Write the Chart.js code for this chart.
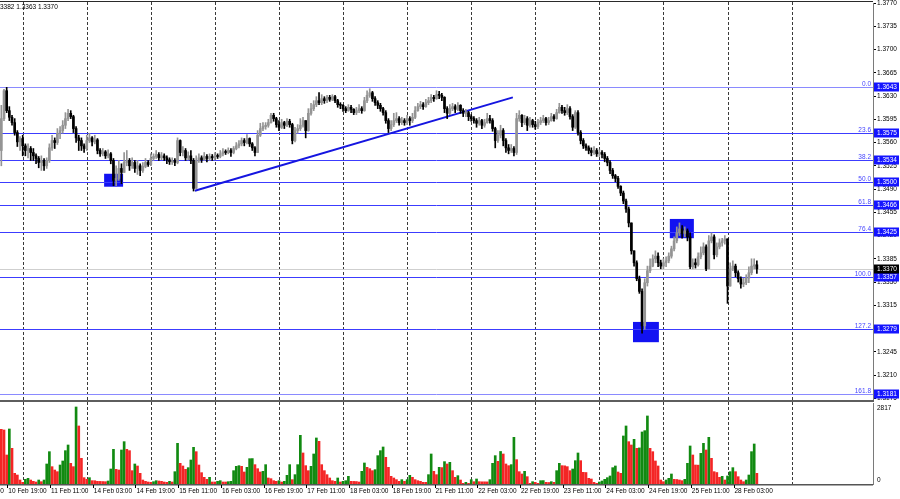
<!DOCTYPE html>
<html>
<head>
<meta charset="utf-8">
<script src="https://cdn.jsdelivr.net/npm/chart.js@4.4.1/dist/chart.umd.min.js"></script>
<style>
  html, body { margin: 0; padding: 0; background: #fff; }
  #wrap { position: relative; width: 900px; height: 499px; overflow: hidden; background: #fff; }
  canvas { position: absolute; left: 0; }
  #priceCanvas { top: 0; }
  #volCanvas { top: 402px; }
</style>
</head>
<body>
<div id="wrap">
  <canvas id="priceCanvas" width="900" height="402"></canvas>
  <canvas id="volCanvas" width="900" height="97"></canvas>
</div>
<script>
// H1 bars, prices in points (price * 10000). Open of each bar = previous close.
const firstOpen = 13548;
const closes = [
  13596, 13638, 13608, 13598, 13590, 13575, 13561, 13566, 13555, 13548,
  13551, 13545, 13540, 13536, 13530, 13533, 13525, 13533, 13552, 13563,
  13560, 13574, 13578, 13586, 13596, 13604, 13599, 13581, 13567, 13563,
  13555, 13551, 13563, 13567, 13561, 13564, 13548, 13543, 13546, 13540,
  13543, 13533, 13503, 13506, 13521, 13515, 13530, 13533, 13525, 13530,
  13521, 13525, 13518, 13524, 13530, 13527, 13536, 13539, 13542, 13537,
  13540, 13537, 13534, 13531, 13533, 13530, 13563, 13545, 13548, 13537,
  13540, 13533, 13491, 13533, 13537, 13534, 13539, 13536, 13539, 13537,
  13540, 13539, 13543, 13546, 13545, 13548, 13545, 13551, 13555, 13558,
  13563, 13560, 13566, 13558, 13552, 13545, 13571, 13581, 13584, 13586,
  13590, 13601, 13596, 13587, 13583, 13590, 13586, 13592, 13587, 13563,
  13578, 13581, 13586, 13593, 13578, 13604, 13611, 13617, 13623, 13620,
  13626, 13623, 13628, 13625, 13629, 13623, 13617, 13616, 13611, 13608,
  13613, 13610, 13605, 13608, 13611, 13608, 13623, 13631, 13635, 13626,
  13620, 13616, 13611, 13605, 13593, 13581, 13587, 13593, 13596, 13590,
  13593, 13590, 13596, 13593, 13598, 13608, 13614, 13617, 13614, 13620,
  13623, 13628, 13626, 13632, 13631, 13628, 13611, 13604, 13611, 13614,
  13610, 13616, 13608, 13604, 13605, 13599, 13596, 13593, 13589, 13593,
  13586, 13590, 13596, 13593, 13581, 13563, 13571, 13578, 13563, 13552,
  13548, 13551, 13545, 13596, 13601, 13590, 13596, 13586, 13593, 13587,
  13584, 13590, 13593, 13596, 13590, 13593, 13599, 13596, 13605, 13613,
  13608, 13605, 13611, 13599, 13583, 13605, 13575, 13563, 13555, 13552,
  13548, 13545, 13548, 13543, 13545, 13542, 13536, 13530, 13518, 13510,
  13506, 13494, 13484, 13472, 13460, 13439, 13397, 13379, 13355, 13336,
  13284, 13349, 13367, 13374, 13385, 13389, 13379, 13374, 13379, 13382,
  13389, 13400, 13412, 13424, 13430, 13423, 13427, 13418, 13373, 13379,
  13376, 13388, 13394, 13403, 13370, 13412, 13418, 13391, 13403, 13409,
  13412, 13415, 13344, 13370, 13374, 13364, 13355, 13347, 13349, 13356,
  13364, 13374, 13376, 13370
];
const highs = [
  13616, 13640, 13643, 13614, 13601, 13596, 13578, 13569, 13571, 13558,
  13558, 13554, 13551, 13543, 13539, 13540, 13536, 13537, 13558, 13571,
  13567, 13581, 13584, 13593, 13605, 13610, 13608, 13601, 13584, 13571,
  13567, 13558, 13571, 13574, 13569, 13571, 13566, 13551, 13551, 13548,
  13549, 13545, 13536, 13525, 13533, 13528, 13545, 13548, 13536, 13537,
  13533, 13533, 13528, 13530, 13536, 13533, 13543, 13543, 13548, 13545,
  13545, 13543, 13540, 13537, 13537, 13536, 13567, 13564, 13554, 13551,
  13546, 13548, 13536, 13540, 13543, 13540, 13545, 13542, 13543, 13542,
  13545, 13543, 13548, 13551, 13549, 13552, 13551, 13554, 13560, 13563,
  13567, 13566, 13572, 13567, 13560, 13554, 13578, 13589, 13590, 13590,
  13595, 13604, 13604, 13598, 13593, 13595, 13592, 13596, 13595, 13589,
  13583, 13587, 13596, 13598, 13593, 13611, 13619, 13623, 13629, 13635,
  13632, 13629, 13631, 13631, 13632, 13631, 13625, 13620, 13617, 13614,
  13617, 13616, 13611, 13613, 13617, 13614, 13628, 13638, 13641, 13637,
  13629, 13623, 13619, 13613, 13608, 13596, 13593, 13604, 13605, 13599,
  13598, 13596, 13601, 13599, 13604, 13614, 13619, 13622, 13620, 13625,
  13628, 13632, 13631, 13638, 13637, 13634, 13629, 13614, 13617, 13619,
  13617, 13620, 13617, 13611, 13610, 13607, 13602, 13599, 13596, 13598,
  13595, 13595, 13604, 13601, 13596, 13583, 13578, 13586, 13581, 13566,
  13557, 13557, 13554, 13604, 13608, 13602, 13601, 13599, 13598, 13595,
  13592, 13595, 13598, 13601, 13598, 13598, 13604, 13602, 13610, 13619,
  13616, 13613, 13617, 13614, 13602, 13608, 13608, 13578, 13566, 13558,
  13555, 13552, 13554, 13551, 13549, 13548, 13545, 13539, 13533, 13521,
  13512, 13509, 13495, 13487, 13475, 13463, 13433, 13397, 13382, 13359,
  13340, 13355, 13374, 13385, 13391, 13397, 13394, 13383, 13385, 13388,
  13394, 13404, 13418, 13433, 13439, 13435, 13433, 13430, 13424, 13385,
  13385, 13394, 13403, 13409, 13406, 13420, 13424, 13421, 13409, 13415,
  13416, 13420, 13392, 13379, 13382, 13377, 13367, 13358, 13356, 13361,
  13373, 13385, 13385, 13382
];
const lows = [
  13525, 13593, 13605, 13593, 13586, 13571, 13554, 13548, 13540, 13540,
  13537, 13533, 13533, 13528, 13522, 13518, 13518, 13521, 13530, 13548,
  13551, 13557, 13566, 13574, 13581, 13593, 13596, 13575, 13560, 13548,
  13548, 13545, 13548, 13560, 13555, 13558, 13543, 13539, 13540, 13536,
  13537, 13528, 13495, 13495, 13503, 13498, 13515, 13525, 13518, 13521,
  13515, 13512, 13510, 13515, 13522, 13524, 13525, 13533, 13536, 13533,
  13534, 13533, 13528, 13527, 13527, 13525, 13528, 13540, 13540, 13533,
  13534, 13528, 13487, 13491, 13530, 13530, 13533, 13531, 13533, 13533,
  13534, 13536, 13537, 13540, 13542, 13543, 13539, 13543, 13549, 13552,
  13555, 13555, 13558, 13554, 13548, 13540, 13545, 13569, 13578, 13580,
  13583, 13589, 13592, 13583, 13578, 13581, 13581, 13584, 13583, 13558,
  13561, 13574, 13578, 13583, 13567, 13577, 13601, 13608, 13614, 13617,
  13617, 13619, 13620, 13622, 13623, 13620, 13613, 13611, 13607, 13605,
  13607, 13605, 13602, 13602, 13605, 13604, 13607, 13620, 13628, 13622,
  13616, 13611, 13607, 13601, 13589, 13575, 13578, 13584, 13590, 13586,
  13587, 13586, 13587, 13586, 13590, 13596, 13607, 13611, 13610, 13613,
  13617, 13620, 13622, 13625, 13626, 13623, 13605, 13596, 13602, 13608,
  13605, 13608, 13604, 13599, 13599, 13593, 13592, 13589, 13583, 13586,
  13581, 13583, 13589, 13589, 13577, 13552, 13560, 13567, 13555, 13545,
  13543, 13545, 13540, 13542, 13592, 13584, 13587, 13578, 13583, 13583,
  13580, 13581, 13587, 13590, 13586, 13587, 13592, 13592, 13595, 13604,
  13604, 13601, 13602, 13595, 13578, 13581, 13571, 13558, 13551, 13548,
  13543, 13540, 13542, 13539, 13539, 13537, 13531, 13525, 13513, 13506,
  13501, 13491, 13480, 13468, 13455, 13433, 13392, 13374, 13352, 13333,
  13273, 13279, 13344, 13364, 13373, 13379, 13373, 13370, 13370, 13373,
  13379, 13386, 13397, 13409, 13420, 13416, 13418, 13412, 13370, 13370,
  13371, 13374, 13385, 13391, 13367, 13370, 13409, 13385, 13388, 13400,
  13404, 13407, 13318, 13344, 13367, 13358, 13350, 13341, 13343, 13346,
  13349, 13361, 13370, 13363
];
const volumes = [
  2000, 1976, 1061, 2013, 1305, 390, 329, 146, 61, 171,
  207, 146, 98, 73, 146, 85, 146, 732, 1183, 634,
  512, 451, 695, 842, 1220, 1427, 756, 634, 2817, 2123,
  939, 232, 171, 232, 122, 120, 98, 95, 90, 85,
  110, 549, 1269, 537, 512, 1244, 1549, 1269, 1220, 488,
  732, 659, 390, 146, 98, 73, 61, 85, 122, 110,
  98, 73, 61, 98, 73, 451, 1488, 756, 659, 537,
  598, 878, 1342, 1183, 695, 415, 244, 171, 244, 73,
  73, 98, 122, 73, 73, 85, 98, 488, 647, 671,
  647, 439, 610, 927, 930, 708, 561, 439, 464, 708,
  220, 195, 122, 98, 122, 73, 98, 317, 708, 159,
  342, 708, 1781, 1135, 671, 488, 647, 1098, 1684, 1562,
  708, 488, 342, 220, 122, 98, 220, 73, 98, 122,
  281, 98, 95, 90, 73, 464, 769, 610, 561, 488,
  525, 1037, 1220, 1354, 976, 610, 281, 220, 159, 98,
  159, 98, 159, 317, 244, 159, 122, 98, 61, 61,
  342, 1098, 464, 342, 610, 600, 818, 732, 793, 488,
  244, 305, 146, 24, 61, 24, 159, 85, 183, 85,
  80, 80, 78, 159, 757, 1037, 830, 1190, 1098, 732,
  671, 708, 1708, 891, 451, 366, 464, 268, 24, 85,
  61, 24, 122, 125, 61, 55, 85, 61, 488, 757,
  671, 665, 635, 488, 549, 854, 1135, 854, 427, 420,
  207, 183, 61, 24, 73, 110, 171, 232, 293, 598,
  659, 439, 390, 1757, 2123, 1549, 1427, 1635, 1305, 1320,
  1903, 1952, 2489, 1305, 1183, 842, 659, 146, 85, 146,
  207, 366, 171, 165, 146, 122, 171, 756, 1391, 1061,
  695, 690, 1122, 1488, 1244, 1708, 939, 451, 420, 244,
  280, 146, 293, 451, 598, 451, 268, 146, 85, 146,
  329, 1183, 1464, 390
];

// time axis
const days = ['10 Feb', '11 Feb', '14 Feb', '15 Feb', '16 Feb', '17 Feb', '18 Feb', '21 Feb',
  '22 Feb', '23 Feb', '24 Feb', '25 Feb', '28 Feb', '1 Mar', '2 Mar'];
const firstHour = 16;
const slotCount = 327;          // bars + empty space on the right
const timeLabels = ['10 Feb 03:00', '10 Feb 19:00', '11 Feb 11:00', '14 Feb 03:00', '14 Feb 19:00',
  '15 Feb 11:00', '16 Feb 03:00', '16 Feb 19:00', '17 Feb 11:00', '18 Feb 03:00', '18 Feb 19:00',
  '21 Feb 11:00', '22 Feb 03:00', '22 Feb 19:00', '23 Feb 11:00', '24 Feb 03:00', '24 Feb 19:00',
  '25 Feb 11:00', '28 Feb 03:00'];
const timeLabelFirstBar = -13;
const timeLabelStep = 16;

// price axis
const priceMax = 1.3770;
const priceMin = 1.3171;
const priceTicks = [1.3770, 1.3735, 1.3700, 1.3665, 1.3630, 1.3595, 1.3560, 1.3525, 1.3490,
  1.3455, 1.3420, 1.3385, 1.3350, 1.3315, 1.3280, 1.3245, 1.3210, 1.3175];

// fibonacci retracement
const fibNames = ['0.0', '23.6', '38.2', '50.0', '61.8', '76.4', '100.0', '127.2', '161.8'];
const fibPrices = [1.3643, 1.3575, 1.3534, 1.3500, 1.3466, 1.3425, 1.3357, 1.3279, 1.3181];

// trend line (bar index, price)
const trendBars = [72.5, 191.6];
const trendPrices = [1.34875, 1.3628];

// highlight boxes (bar index range, price range)
const boxBarFrom = [38.5, 236.6, 250.4];
const boxBarTo = [45.6, 246.3, 259.4];
const boxPriceTop = [1.3513, 1.3290, 1.3445];
const boxPriceBottom = [1.34935, 1.32595, 1.3416];

const pts = v => v / 10000;
const last = closes.length - 1;
const currentPrice = pts(closes[last]);

const barLabels = [];
for (let i = 0; i < slotCount; i++) {
  const h = firstHour + i;
  barLabels.push(days[Math.floor(h / 24)] + ' ' + String(h % 24).padStart(2, '0') + ':00');
}
const dayStarts = [];
for (let i = 0; i < 300; i++) {
  if ((firstHour + i) % 24 === 0) dayStarts.push(i);
}

const opens = closes.map((c, i) => i === 0 ? firstOpen : closes[i - 1]);
const bodyData = closes.map((c, i) => [pts(Math.min(opens[i], c)), pts(Math.max(opens[i], c))]);
const wickData = closes.map((c, i) => [pts(Math.min(lows[i], opens[i], c)), pts(Math.max(highs[i], opens[i], c))]);
const candleColors = closes.map((c, i) => c > opens[i] ? '#949494' : '#000000');
const volColors = volumes.map((v, i) => i > 0 && v > volumes[i - 1] ? '#118a11' : '#f42525');
const volTop = Math.max(...volumes);

const FONT = '6.5px "Liberation Sans", Arial, sans-serif';
const AXIS_W = 27;

function drawDayGrid(ctx, x, top, bottom) {
  ctx.save();
  ctx.strokeStyle = '#3a3a3a';
  ctx.lineWidth = 1;
  ctx.setLineDash([3, 2]);
  dayStarts.forEach(i => {
    const px = Math.round(x.getPixelForValue(i)) + 0.5;
    ctx.beginPath();
    ctx.moveTo(px, top);
    ctx.lineTo(px, bottom);
    ctx.stroke();
  });
  ctx.restore();
}

const priceOverlay = {
  id: 'priceOverlay',
  beforeDatasetsDraw(chart) {
    const { ctx, chartArea: a, scales: { x, y } } = chart;
    drawDayGrid(ctx, x, 2, a.bottom);
    ctx.save();
    // boxes
    ctx.fillStyle = '#1212f2';
    boxBarFrom.forEach((b, i) => {
      const x0 = x.getPixelForValue(b), x1 = x.getPixelForValue(boxBarTo[i]);
      const y0 = y.getPixelForValue(boxPriceTop[i]), y1 = y.getPixelForValue(boxPriceBottom[i]);
      ctx.fillRect(x0, y0, x1 - x0, y1 - y0);
    });
    // current price line
    const cy = Math.round(y.getPixelForValue(currentPrice)) + 0.5;
    ctx.strokeStyle = '#cfcfcf';
    ctx.lineWidth = 1;
    ctx.beginPath(); ctx.moveTo(a.left, cy); ctx.lineTo(a.right, cy); ctx.stroke();
    // fib levels
    fibPrices.forEach((p, i) => {
      const py = Math.round(y.getPixelForValue(p)) + 0.5;
      ctx.strokeStyle = (i === 0 || i === fibPrices.length - 1) ? '#8a8aff' : '#3c3cff';
      ctx.lineWidth = 1;
      ctx.beginPath(); ctx.moveTo(a.left, py); ctx.lineTo(a.right, py); ctx.stroke();
    });
    // trend line
    ctx.strokeStyle = '#1515e0';
    ctx.lineWidth = 2;
    ctx.beginPath();
    ctx.moveTo(x.getPixelForValue(trendBars[0]), y.getPixelForValue(trendPrices[0]));
    ctx.lineTo(x.getPixelForValue(trendBars[1]), y.getPixelForValue(trendPrices[1]));
    ctx.stroke();
    ctx.restore();
  },
  afterDraw(chart) {
    const { ctx, chartArea: a, scales: { y } } = chart;
    ctx.save();
    ctx.font = FONT;
    // fib level names
    ctx.fillStyle = '#4646ff';
    ctx.textAlign = 'right';
    ctx.textBaseline = 'bottom';
    fibPrices.forEach((p, i) => {
      ctx.fillText(fibNames[i], a.right - 2, Math.round(y.getPixelForValue(p)));
    });
    // axis boxes
    ctx.textAlign = 'left';
    ctx.textBaseline = 'middle';
    const tag = (p, bg) => {
      const py = Math.round(y.getPixelForValue(p));
      ctx.fillStyle = bg;
      ctx.fillRect(a.right + 1, py - 4.5, 25, 9);
      ctx.fillStyle = '#ffffff';
      ctx.fillText(p.toFixed(4), a.right + 4, py + 0.5);
    };
    fibPrices.forEach(p => tag(p, '#1414ff'));
    tag(currentPrice, '#000000');
    // header with last bar values
    ctx.fillStyle = '#000';
    ctx.textBaseline = 'middle';
    const head = pts(highs[last]).toFixed(4) + ' ' + pts(lows[last]).toFixed(4) + ' ' + currentPrice.toFixed(4);
    ctx.fillText(head, -ctx.measureText('1.').width, 7);
    // frame
    ctx.fillStyle = '#2a2a2a';
    ctx.fillRect(0, 1, a.right, 1);
    ctx.fillStyle = '#5e5e5e';
    ctx.fillRect(0, 400, a.right + 1, 2);
    ctx.restore();
  }
};

const volOverlay = {
  id: 'volOverlay',
  beforeDatasetsDraw(chart) {
    const { ctx, chartArea: a, scales: { x } } = chart;
    drawDayGrid(ctx, x, 0, a.bottom);
  },
  afterDraw(chart) {
    const { ctx, chartArea: a, scales: { x, y } } = chart;
    ctx.save();
    ctx.fillStyle = '#555';
    ctx.fillRect(0, a.bottom, a.right, 1.5);
    ctx.font = FONT;
    ctx.fillStyle = '#000';
    ctx.textAlign = 'left';
    ctx.textBaseline = 'middle';
    // volume axis labels: max value near the top, zero just above the baseline
    ctx.fillText(String(volTop), a.right + 4, y.getPixelForValue(volTop) + 1);
    ctx.fillText('0', a.right + 4, y.getPixelForValue(0) - 4);
    // time labels
    timeLabels.forEach((t, j) => {
      const px = x.getPixelForValue(timeLabelFirstBar + j * timeLabelStep);
      ctx.fillRect(Math.round(px - 2), a.bottom + 1, 1, 3);
      ctx.fillText(t, px - 1, a.bottom + 7);
    });
    ctx.restore();
  }
};

const rightAxis = (extra) => Object.assign({
  position: 'right',
  afterFit: s => { s.width = AXIS_W; s.paddingTop = 0; s.paddingBottom = 0; },
  grid: { display: true, drawOnChartArea: false, drawTicks: true, tickLength: 3, color: '#000' },
  border: { display: true, color: '#7a7a7a', width: 1 }
}, extra);

Chart.defaults.font.family = '"Liberation Sans", Arial, sans-serif';

new Chart(document.getElementById('priceCanvas'), {
  type: 'bar',
  data: {
    labels: barLabels,
    datasets: [
      { label: 'body', data: bodyData, backgroundColor: candleColors, barThickness: 2, grouped: false, minBarLength: 1 },
      { label: 'wick', data: wickData, backgroundColor: candleColors, barThickness: 1, grouped: false }
    ]
  },
  options: {
    responsive: false,
    animation: false,
    devicePixelRatio: 1,
    layout: { padding: { top: 3, bottom: 1, left: 0, right: 0 } },
    plugins: { legend: { display: false }, tooltip: { enabled: false } },
    scales: {
      x: { display: false },
      y: rightAxis({
        min: priceMin, max: priceMax,
        afterBuildTicks: s => { s.ticks = priceTicks.map(v => ({ value: v })); },
        ticks: { font: { size: 6.5 }, color: '#000', padding: 1, autoSkip: false, callback: v => Number(v).toFixed(4) }
      })
    }
  },
  plugins: [priceOverlay]
});

new Chart(document.getElementById('volCanvas'), {
  type: 'bar',
  data: {
    labels: barLabels,
    datasets: [{ label: 'Volumes', data: volumes, backgroundColor: volColors, barThickness: 2 }]
  },
  options: {
    responsive: false,
    animation: false,
    devicePixelRatio: 1,
    layout: { padding: { top: 1, bottom: 15, left: 0, right: 0 } },
    plugins: { legend: { display: false }, tooltip: { enabled: false } },
    scales: {
      x: { display: false },
      y: rightAxis({
        min: 0, max: volTop * 81 / 77,
        afterBuildTicks: s => { s.ticks = [{ value: 0 }, { value: volTop }]; },
        grid: { display: false },
        ticks: { display: false }
      })
    }
  },
  plugins: [volOverlay]
});
</script>
</body>
</html>
